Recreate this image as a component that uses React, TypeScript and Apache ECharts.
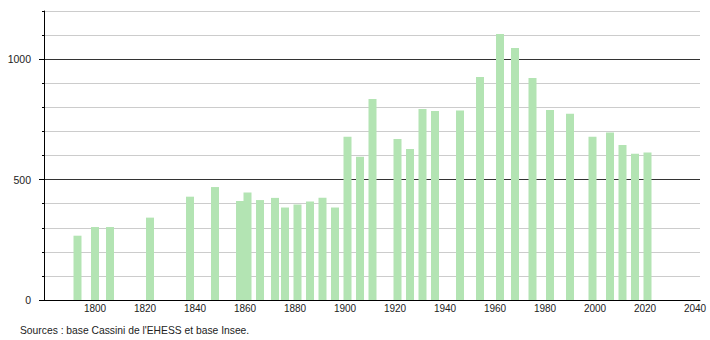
import React, { useEffect, useRef } from "react";
import * as echarts from "echarts";

const years = [1793, 1800, 1806, 1822, 1838, 1848, 1858, 1861, 1866, 1872, 1876, 1881, 1886, 1891, 1896, 1901, 1906, 1911, 1921, 1926, 1931, 1936, 1946, 1954, 1962, 1968, 1975, 1982, 1990, 1999, 2006, 2011, 2016, 2021];
const population = [267, 303, 303, 342, 429, 469, 411, 446, 415, 424, 384, 397, 409, 425, 384, 678, 595, 835, 669, 627, 793, 785, 787, 926, 1105, 1046, 922, 789, 773, 678, 695, 644, 607, 612];
const xTickLabels = [1800, 1820, 1840, 1860, 1880, 1900, 1920, 1940, 1960, 1980, 2000, 2020, 2040];
const yTickLabels = [0, 500, 1000];
const sourceText = "Sources : base Cassini de l'EHESS et base Insee.";

const FONT = "'Liberation Sans', Arial, sans-serif";

export default function App() {
  const ref = useRef<HTMLDivElement>(null);
  useEffect(() => {
    if (!ref.current) return;
    const chart = echarts.init(ref.current, null, { renderer: "svg" });
    chart.setOption({
      animation: false,
      grid: { left: 44, right: 10, top: 11, bottom: 40, containLabel: false },
      xAxis: {
        type: "value",
        min: 1779.6,
        max: 2042,
        axisLine: { show: true, lineStyle: { color: "#000", width: 1 } },
        axisTick: { show: false },
        splitLine: { show: false },
        axisLabel: {
          customValues: xTickLabels,
          color: "#222",
          fontSize: 10,
          fontFamily: FONT,
          margin: 3,
          formatter: (v: number) => String(v),
        },
      },
      yAxis: [
        {
          type: "value",
          min: 0,
          max: 1200,
          interval: 100,
          axisLine: { show: true, lineStyle: { color: "#000", width: 1 } },
          axisTick: { show: true, length: 2, lineStyle: { color: "#000" } },
          splitLine: {
            show: true,
            lineStyle: { color: ["#333", "#ccc", "#ccc", "#ccc", "#ccc"], width: 1 },
          },
          axisLabel: {
            customValues: yTickLabels,
            color: "#222",
            fontSize: 10.5,
            fontFamily: FONT,
            margin: 13,
            formatter: (v: number) => String(v),
          },
        },
        {
          type: "value",
          position: "left",
          min: 0,
          max: 1200,
          axisLine: { show: false },
          axisTick: { show: true, length: 5, customValues: yTickLabels, lineStyle: { color: "#000" } },
          splitLine: { show: false },
          axisLabel: { show: false },
        },
      ],
      graphic: [
        {
          type: "text",
          left: 20,
          top: 325,
          style: { text: sourceText, fontSize: 10.3, fontFamily: FONT, fill: "#222" },
        },
      ],
      series: [
        {
          type: "bar",
          barWidth: 8,
          itemStyle: { color: "#b3e4b3" },
          data: years.map((y, i) => [y, population[i]]),
        },
      ],
    });
    return () => chart.dispose();
  }, []);
  return <div ref={ref} style={{ width: 710, height: 340, position: "absolute", left: 0, top: 0 }} />;
}
